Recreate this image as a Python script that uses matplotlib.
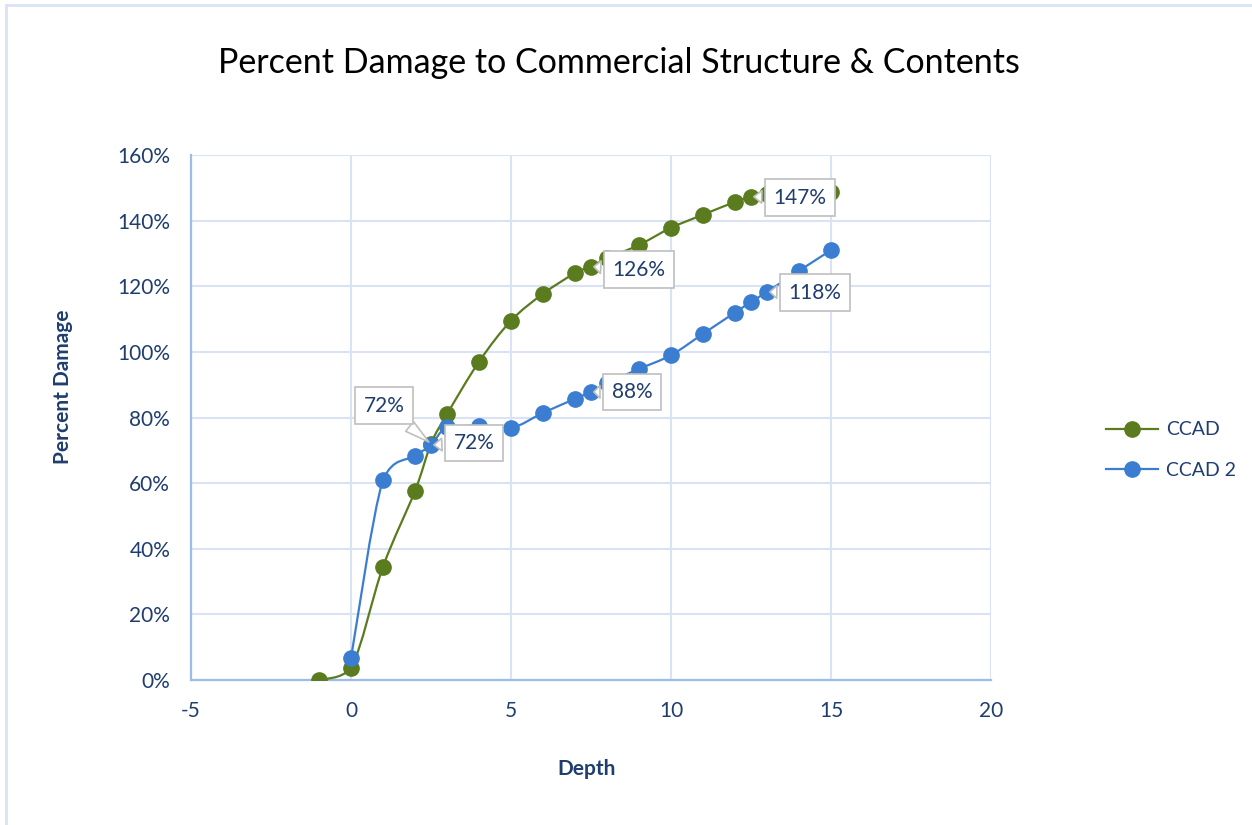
import numpy as np
import matplotlib
matplotlib.use('Agg')
import matplotlib.pyplot as plt
from matplotlib.path import Path
from matplotlib.patches import PathPatch
from matplotlib.lines import Line2D
from matplotlib.ticker import FuncFormatter

plt.rcParams['font.family'] = ['Lato', 'DejaVu Sans']
plt.rcParams['axes.unicode_minus'] = False

# data (depth, percent damage)
ccad_x = [-1, 0, 1, 2, 2.5, 3, 4, 5, 6, 7, 7.5, 8, 9, 10, 11, 12, 12.5, 13, 14, 15]
ccad_y = [0.0, 3.6, 34.5, 57.6, 72.0, 81.0, 97.0, 109.5, 117.7, 124.0, 126.0, 128.5,
          132.6, 137.8, 141.8, 145.7, 147.3, 148.0, 148.4, 148.8]
ccad2_x = [0, 1, 2, 2.5, 3, 4, 5, 6, 7, 7.5, 8, 9, 10, 11, 12, 12.5, 13, 14, 15]
ccad2_y = [6.7, 61.0, 68.3, 71.6, 77.0, 77.5, 76.8, 81.4, 85.7, 87.8, 90.5, 94.8,
           99.0, 105.5, 112.0, 115.2, 118.3, 124.7, 131.0]

# labelled points: (index, text)
labels_ccad = [(4, '72%'), (10, '126%'), (16, '147%')]
labels_ccad2 = [(3, '72%'), (9, '88%'), (16, '118%')]

green = '#5b7b1f'
blue = '#3b7dd0'
txt = '#1f3d6e'
grid_c = '#d9e3f4'


def smooth_path(xs, ys):
    # smoothed line as cubic bezier segments, control points kept inside each segment's y range
    p = np.column_stack([xs, ys]).astype(float)
    n = len(p)
    verts = [p[0]]
    codes = [Path.MOVETO]
    for i in range(n - 1):
        p0 = p[i - 1] if i > 0 else p[i]
        p3 = p[i + 2] if i + 2 < n else p[i + 1]
        c1 = p[i] + (p[i + 1] - p0) / 6.0
        c2 = p[i + 1] - (p3 - p[i]) / 6.0
        lo, hi = min(p[i][1], p[i + 1][1]), max(p[i][1], p[i + 1][1])
        c1[1] = np.clip(c1[1], lo, hi)
        c2[1] = np.clip(c2[1], lo, hi)
        verts += [c1, c2, p[i + 1]]
        codes += [Path.CURVE4] * 3
    return Path(verts, codes)


fig = plt.figure(figsize=(12.52, 8.25), dpi=100)
ax = fig.add_axes([191 / 1252, 145 / 825, 800 / 1252, 525 / 825])

for xs, ys, col in [(ccad_x, ccad_y, green), (ccad2_x, ccad2_y, blue)]:
    ax.add_patch(PathPatch(smooth_path(xs, ys), fc='none', ec=col, lw=1.6, zorder=3))
    ax.plot(xs, ys, ls='none', marker='o', ms=11, color=col, mec=col, zorder=4)

box = dict(boxstyle='square,pad=0.4', fc='white', ec='#bfbfbf', lw=1.2)
arrow = dict(arrowstyle='wedge,tail_width=0.6', fc='white', ec='#bfbfbf', lw=1.2)
offs_ccad = [(-47, 38), (48, -3), (49, -1)]
offs_ccad2 = [(43, 2), (41, 0), (48, -1)]
for (i, t), off in zip(labels_ccad, offs_ccad):
    ax.annotate(t, (ccad_x[i], ccad_y[i]), xytext=off, textcoords='offset pixels',
                ha='center', va='center', fontsize=15, color=txt, bbox=box,
                arrowprops=arrow, zorder=6)
for (i, t), off in zip(labels_ccad2, offs_ccad2):
    ax.annotate(t, (ccad2_x[i], ccad2_y[i]), xytext=off, textcoords='offset pixels',
                ha='center', va='center', fontsize=15, color=txt, bbox=box,
                arrowprops=arrow, zorder=6)

ax.set_xlim(-5, 20)
ax.set_ylim(0, 160)
ax.set_xticks(np.arange(-5, 21, 5))
ax.set_yticks(np.arange(0, 161, 20))
ax.yaxis.set_major_formatter(FuncFormatter(lambda v, p: '%d%%' % v))
ax.grid(True, color=grid_c, lw=1.5, zorder=0)
ax.set_axisbelow(True)
for s in ['top', 'right']:
    ax.spines[s].set_visible(False)
ax.spines['left'].set_color('#9dbde9')
ax.spines['bottom'].set_color('#9dbde9')
ax.spines['left'].set_linewidth(1.6)
ax.spines['bottom'].set_linewidth(1.6)
ax.tick_params(length=0, labelsize=15, labelcolor=txt)
ax.tick_params(axis='y', pad=15)
ax.tick_params(axis='x', pad=15)

ax.set_xlabel('Depth', fontsize=15, fontweight='bold', color=txt)
ax.set_ylabel('Percent Damage', fontsize=15, fontweight='bold', color=txt)
ax.xaxis.set_label_coords(0.494, -0.15)
ax.yaxis.set_label_coords(-0.148, 0.558)

fig.text(619 / 1252, 1 - 63 / 825, 'Percent Damage to Commercial Structure & Contents',
         ha='center', va='center', fontsize=24.5, color='black')

handles = [Line2D([], [], color=green, lw=1.6, marker='o', ms=11),
           Line2D([], [], color=blue, lw=1.6, marker='o', ms=11)]
fig.legend(handles, ['CCAD', 'CCAD 2'], loc='center left',
           bbox_to_anchor=(1088 / 1252, 1 - 450 / 825), frameon=False,
           fontsize=14, labelcolor=txt, handlelength=2.7, handletextpad=0.4,
           labelspacing=1.2)

# chart border (left and top edges visible)
fig.add_artist(Line2D([6 / 1252, 6 / 1252], [0, 1 - 5 / 825], color=grid_c, lw=2))
fig.add_artist(Line2D([6 / 1252, 1], [1 - 5 / 825, 1 - 5 / 825], color=grid_c, lw=2))

fig.savefig('out.png', dpi=100)
